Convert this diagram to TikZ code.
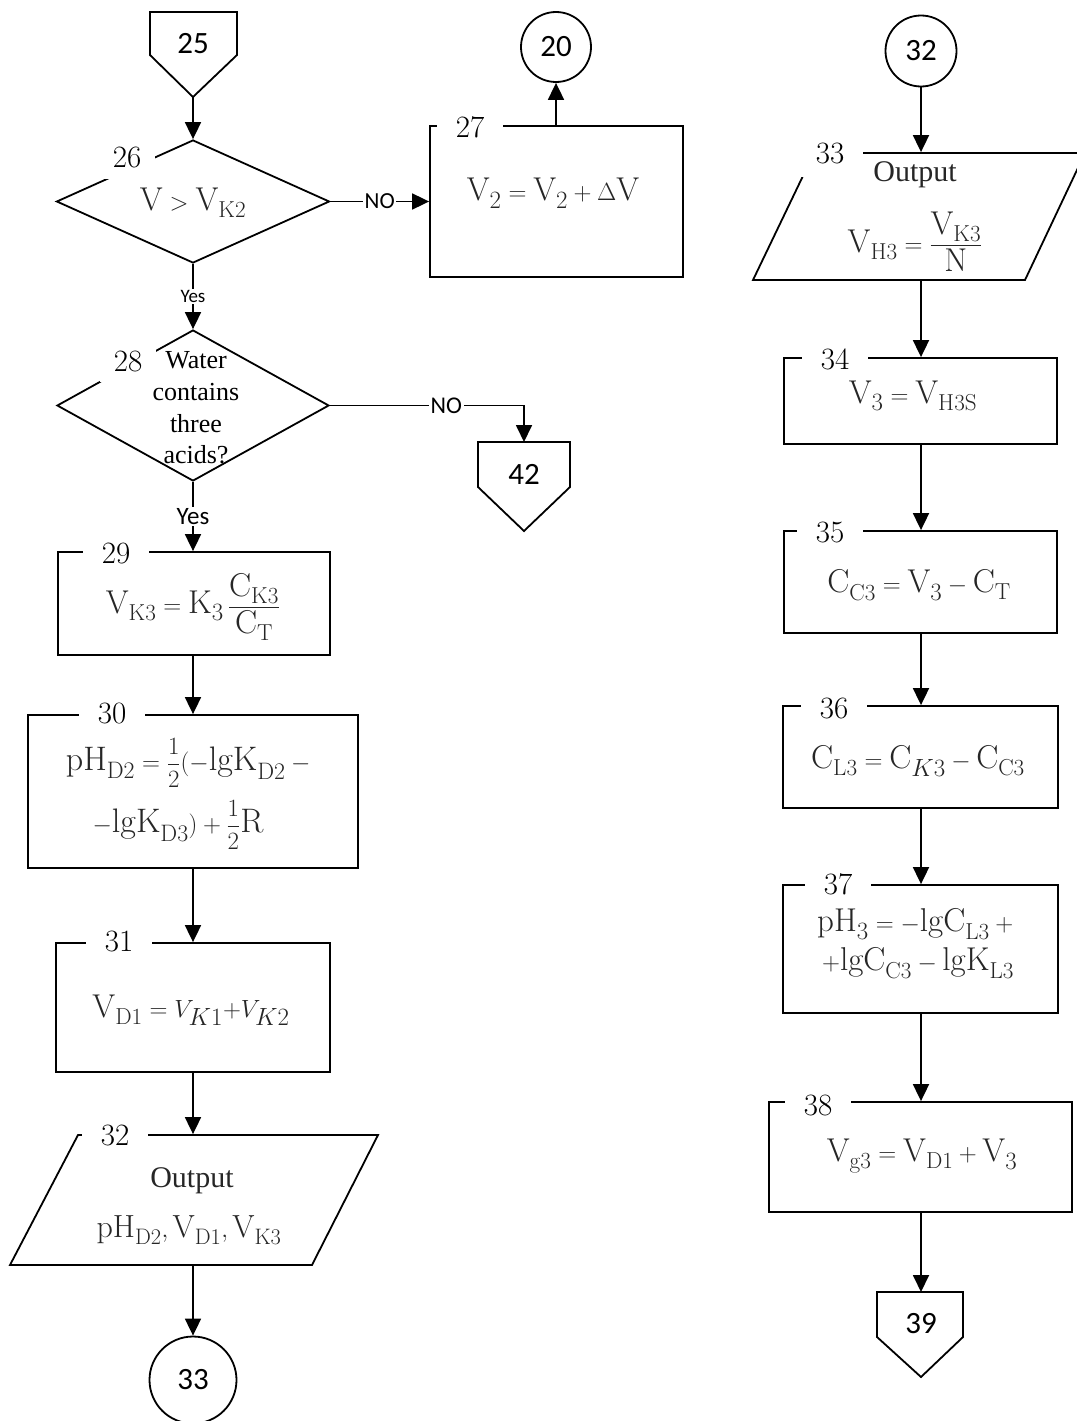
\documentclass[tikz,border=0pt]{standalone}
\usepackage{fontspec}
\usepackage{amsmath}
\newfontfamily\calib{Carlito}
\newfontfamily\tnr{Liberation Serif}
\usetikzlibrary{arrows.meta,shapes.geometric,calc}
\begin{document}
\begin{tikzpicture}[x=1pt,y=-1pt,line width=1.8pt,
  arr/.style={-{Triangle[length=17pt,width=16pt]}},
  box/.style={draw,rectangle,inner sep=0pt},
  dia/.style={draw,diamond,inner sep=0pt},
  circ/.style={draw,circle,inner sep=0pt,minimum size=70pt,font=\calib\fontsize{31}{31}\selectfont},
  ctext/.style={inner sep=0pt,font=\calib\fontsize{31}{31}\selectfont},
  num/.style={fill=white,inner xsep=19pt,inner ysep=3pt,font=\fontsize{31}{31}\selectfont},
  dnum/.style={fill=white,inner xsep=14pt,inner ysep=11pt,font=\fontsize{31}{31}\selectfont},
  lab/.style={fill=white,inner sep=1.5pt,font=\calib\fontsize{24}{24}\selectfont},
  form/.style={inner sep=0pt,text=black!85,font=\fontsize{33}{40}\selectfont,align=center},
  otext/.style={inner sep=0pt,text=black!85,font=\tnr\fontsize{30}{36}\selectfont},
]
\useasboundingbox (0,0) rectangle (1076,1421);

% ---------- left column ----------
% off-page connector 25
\draw (150,12) -- (237,12) -- (237,55) -- (193,97) -- (150,55) -- cycle;
\node[ctext] (c25) at (193,44) {25};
\coordinate (c25tip) at (193,97);

% decision 26
\node[dia,minimum width=273pt,minimum height=123pt] (d26) at (193,201.5) {};
\node[dnum] (n26) at (127,158) {26};
\node[form] (t26) at (193,203) {$\mathrm{V} > \mathrm{V}_{\mathrm{K2}}$};

% box 27
\node[box,minimum width=253pt,minimum height=151pt] (b27) at (556.5,201.5) {};
\node[num] (n27) at (470,127) {27};
\node[form] (t27) at (553,193) {$\mathrm{V}_2 = \mathrm{V}_2 + \Delta\mathrm{V}$};

% circle 20
\node[circ] (c20) at (556,47) {20};

% decision 28
\node[dia,minimum width=272pt,minimum height=151pt] (d28) at (193,405.5) {};
\node[dnum] (n28) at (128,361) {28};
\node[inner sep=0pt,font=\tnr\fontsize{26}{31.7}\selectfont,align=center] (t28) at (196,408) {Water\\contains\\three\\acids?};

% off-page connector 42
\draw (478,442) -- (570,442) -- (570,487) -- (524,531) -- (478,487) -- cycle;
\node[ctext] (c42) at (524,474) {42};
\coordinate (c42top) at (524,442);

% box 29
\node[box,minimum width=272pt,minimum height=103pt] (b29) at (194,603.5) {};
\node[num] (n29) at (116,553) {29};
\node[form] (t29) at (193,607) {$\mathrm{V}_{\mathrm{K3}} = \mathrm{K}_3\,\dfrac{\mathrm{C}_{\mathrm{K3}}}{\mathrm{C}_{\mathrm{T}}}$};

% box 30
\node[box,minimum width=330pt,minimum height=153pt] (b30) at (193,791.5) {};
\node[num] (n30) at (112,713) {30};
\node[form,font=\fontsize{34}{40}\selectfont] (t30a) at (191,763) {$\mathrm{pH}_{\mathrm{D2}} = \dfrac{1}{2}(-\mathrm{lgK}_{\mathrm{D2}} - {}$};
\node[form,font=\fontsize{34}{40}\selectfont] (t30b) at (178,825) {$-\mathrm{lgK}_{\mathrm{D3}}) + \dfrac{1}{2}\mathrm{R}$};

% box 31
\node[box,minimum width=274pt,minimum height=129pt] (b31) at (193,1007.5) {};
\node[num] (n31) at (119,941) {31};
\node[form] (t31) at (191,1010) {$\mathrm{V}_{\mathrm{D1}} = V_{K1}{+}V_{K2}$};

% parallelogram 32
\node[inner sep=0pt,minimum width=234pt,minimum height=130pt] (p32) at (193,1200) {};
\draw (78,1135) -- (378,1135) -- (312,1265) -- (10,1265) -- cycle;
\node[num,inner ysep=6pt] (n32) at (115,1135) {32};
\node[otext] (t32a) at (192,1181) {Output};
\node[form,font=\fontsize{32}{40}\selectfont] (t32b) at (189,1230) {$\mathrm{pH}_{\mathrm{D2}},\mathrm{V}_{\mathrm{D1}},\mathrm{V}_{\mathrm{K3}}$};

% circle 33
\node[circ,minimum size=87pt] (c33) at (193,1380) {33};

% ---------- right column ----------
\node[circ,minimum size=71pt] (c32) at (921,51) {32};

% parallelogram 33
\node[inner sep=0pt,minimum width=210pt,minimum height=127pt] (p33) at (921,216.5) {};
\draw (814,153) -- (1085,153) -- (1025,280) -- (753,280) -- cycle;
\node[num,inner xsep=19pt,inner ysep=13pt] (n33) at (830,154) {33};
\node[otext] (t33a) at (915,175) {Output};
\node[form] (t33b) at (915,242) {$\mathrm{V}_{\mathrm{H3}} = \dfrac{\mathrm{V}_{\mathrm{K3}}}{\mathrm{N}}$};

% box 34
\node[box,minimum width=273pt,minimum height=86pt] (b34) at (920.5,401) {};
\node[num] (n34) at (835,359) {34};
\node[form] (t34) at (913,396) {$\mathrm{V}_3 = \mathrm{V}_{\mathrm{H3S}}$};

% box 35
\node[box,minimum width=273pt,minimum height=102pt] (b35) at (920.5,582) {};
\node[num] (n35) at (830,532) {35};
\node[form] (t35) at (919,585) {$\mathrm{C}_{\mathrm{C3}} = \mathrm{V}_3 - \mathrm{C}_{\mathrm{T}}$};

% box 36
\node[box,minimum width=275pt,minimum height=102pt] (b36) at (920.5,757) {};
\node[num] (n36) at (834,708) {36};
\node[form] (t36) at (918,761) {$\mathrm{C}_{\mathrm{L3}} = \mathrm{C}_{K3} - \mathrm{C}_{\mathrm{C3}}$};

% box 37
\node[box,minimum width=275pt,minimum height=128pt] (b37) at (920.5,949) {};
\node[num] (n37) at (838,884) {37};
\node[form] (t37a) at (918,924) {$\mathrm{pH}_3 = -\mathrm{lgC}_{\mathrm{L3}} + {}$};
\node[form] (t37b) at (918,963) {$+\mathrm{lgC}_{\mathrm{C3}} - \mathrm{lgK}_{\mathrm{L3}}$};

% box 38
\node[box,minimum width=303pt,minimum height=110pt] (b38) at (920.5,1157) {};
\node[num] (n38) at (818,1105) {38};
\node[form] (t38) at (922,1156) {$\mathrm{V}_{\mathrm{g3}} = \mathrm{V}_{\mathrm{D1}} + \mathrm{V}_3$};

% off-page connector 39
\draw (877,1292) -- (963,1292) -- (963,1337) -- (921,1377) -- (877,1337) -- cycle;
\node[ctext] (c39) at (921,1324) {39};
\coordinate (c39top) at (921,1292);

% ---------- connectors ----------
\draw[arr] (c25tip) -- (c25tip |- d26.north);
\draw[arr] (d26.east) -- node[lab,font=\calib\fontsize{23}{23}\selectfont] (no1) {NO} (b27.west);
\draw[arr] (c20 |- b27.north) -- (c20.south);
\draw[arr] (d26.south) -- node[lab,font=\calib\fontsize{19}{19}\selectfont] (yes1) {Yes} (d28.north);
\draw[arr] (d28.east) -- node[lab,pos=0.6] (no2) {NO} (c42top |- d28.east) -- (c42top);
\draw[arr] (d28.south) -- node[lab,font=\calib\fontsize{25}{25}\selectfont] (yes2) {Yes} (d28.south |- b29.north);
\draw[arr] (d28.south |- b29.south) -- (d28.south |- b30.north);
\draw[arr] (b30.south) -- (b30.south |- b31.north);
\draw[arr] (b31.south) -- (b31.south |- p32.north);
\draw[arr] (p32.south) -- (p32.south |- c33.north);
\draw[arr] (c32.south) -- (c32.south |- p33.north);
\draw[arr] (c32.south |- p33.south) -- (c32.south |- b34.north);
\draw[arr] (c32.south |- b34.south) -- (c32.south |- b35.north);
\draw[arr] (c32.south |- b35.south) -- (c32.south |- b36.north);
\draw[arr] (c32.south |- b36.south) -- (c32.south |- b37.north);
\draw[arr] (c32.south |- b37.south) -- (c32.south |- b38.north);
\draw[arr] (c32.south |- b38.south) -- (c39top);
\end{tikzpicture}
\end{document}
